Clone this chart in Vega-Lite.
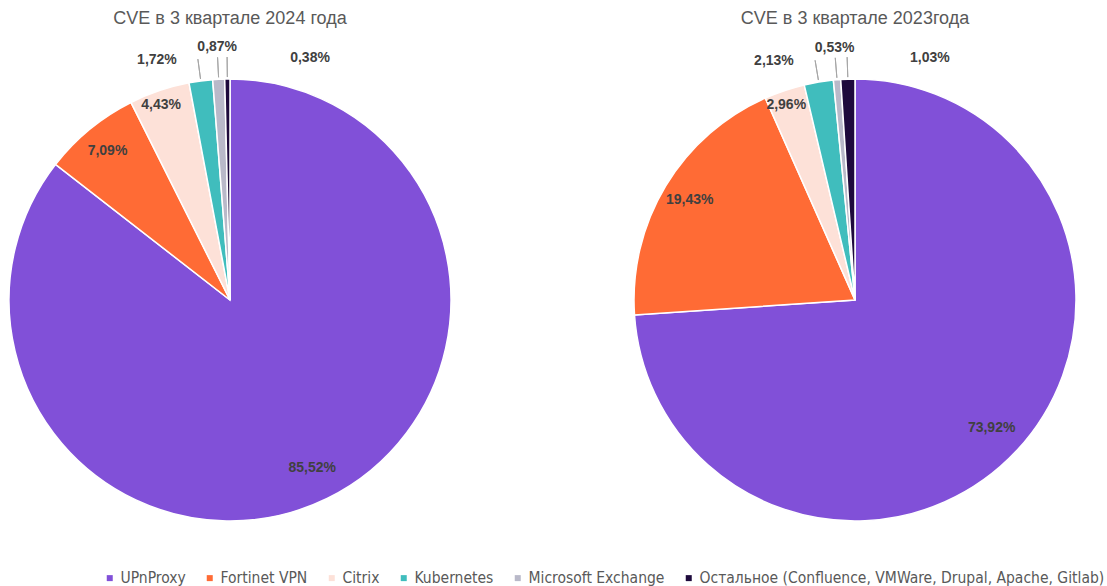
{
  "$schema": "https://vega.github.io/schema/vega-lite/v6.json",
  "padding": {"left": -13, "top": 10, "right": 0, "bottom": 0},
  "bounds": "flush",
  "spacing": 183,
  "background": "white",
  "datasets": {
    "y2024": [
      {"category": "UPnProxy", "value": 85.52, "label": "85,52%", "idx": 1},
      {"category": "Fortinet VPN", "value": 7.09, "label": "7,09%", "idx": 2},
      {"category": "Citrix", "value": 4.43, "label": "4,43%", "idx": 3},
      {"category": "Kubernetes", "value": 1.72, "label": "1,72%", "idx": 4},
      {"category": "Microsoft Exchange", "value": 0.87, "label": "0,87%", "idx": 5},
      {"category": "Остальное (Confluence, VMWare, Drupal, Apache, Gitlab)", "value": 0.38, "label": "0,38%", "idx": 6}
    ],
    "y2023": [
      {"category": "UPnProxy", "value": 73.92, "label": "73,92%", "idx": 1},
      {"category": "Fortinet VPN", "value": 19.43, "label": "19,43%", "idx": 2},
      {"category": "Citrix", "value": 2.96, "label": "2,96%", "idx": 3},
      {"category": "Kubernetes", "value": 2.13, "label": "2,13%", "idx": 4},
      {"category": "Microsoft Exchange", "value": 0.53, "label": "0,53%", "idx": 5},
      {"category": "Остальное (Confluence, VMWare, Drupal, Apache, Gitlab)", "value": 1.03, "label": "1,03%", "idx": 6}
    ]
  },
  "hconcat": [
    {
      "width": 442, "height": 442,
      "title": {"text": "CVE в 3 квартале 2024 года"},
      "data": {"name": "y2024"},
      "encoding": {
        "theta": {"field": "value", "type": "quantitative", "stack": true},
        "order": {"field": "idx", "type": "quantitative"}
      },
      "layer": [
        {
          "mark": {"type": "arc", "radius": 221, "stroke": "white", "strokeWidth": 1.5},
          "encoding": {
            "color": {"field": "category", "type": "nominal", "title": null,
              "scale": {"domain": ["UPnProxy", "Fortinet VPN", "Citrix", "Kubernetes", "Microsoft Exchange", "Остальное (Confluence, VMWare, Drupal, Apache, Gitlab)"],
                        "range": ["#8150D8", "#FF6B35", "#FDE1D8", "#40BDBD", "#B9B9C9", "#1E0A3C"]},
              "legend": {"orient": "none", "legendX": 93, "legendY": 491, "direction": "horizontal", "columns": 6}}
          }
        },
        {
          "mark": {"type": "arc", "radius": 243, "radius2": 223, "padAngle": 0.5, "fillOpacity": 0, "stroke": "#A6A6A6", "strokeWidth": 1},
          "encoding": {"strokeOpacity": {"condition": {"test": "datum.idx >= 4", "value": 1}, "value": 0}}
        },
        {
          "mark": {"type": "text", "radius": 187, "fontWeight": "bold", "fontSize": 14, "font": "Liberation Sans", "color": "#404040"},
          "encoding": {"text": {"condition": {"test": "datum.idx == 1", "field": "label"}, "value": ""}}
        },
        {
          "mark": {"type": "text", "radius": 193, "fontWeight": "bold", "fontSize": 14, "font": "Liberation Sans", "color": "#404040"},
          "encoding": {"text": {"condition": {"test": "datum.idx == 2", "field": "label"}, "value": ""}}
        },
        {
          "mark": {"type": "text", "radius": 206, "dx": -3, "fontWeight": "bold", "fontSize": 14, "font": "Liberation Sans", "color": "#404040"},
          "encoding": {"text": {"condition": {"test": "datum.idx == 3", "field": "label"}, "value": ""}}
        },
        {
          "mark": {"type": "text", "radius": 250, "dx": -40, "dy": 8, "fontWeight": "bold", "fontSize": 14, "font": "Liberation Sans", "color": "#404040"},
          "encoding": {"text": {"condition": {"test": "datum.idx == 4", "field": "label"}, "value": ""}}
        },
        {
          "mark": {"type": "text", "radius": 250, "dx": 0, "dy": -3, "fontWeight": "bold", "fontSize": 14, "font": "Liberation Sans", "color": "#404040"},
          "encoding": {"text": {"condition": {"test": "datum.idx == 5", "field": "label"}, "value": ""}}
        },
        {
          "mark": {"type": "text", "radius": 250, "dx": 83, "dy": 8, "fontWeight": "bold", "fontSize": 14, "font": "Liberation Sans", "color": "#404040"},
          "encoding": {"text": {"condition": {"test": "datum.idx == 6", "field": "label"}, "value": ""}}
        }
      ]
    },
    {
      "width": 442, "height": 442,
      "title": {"text": "CVE в 3 квартале 2023года"},
      "data": {"name": "y2023"},
      "encoding": {
        "theta": {"field": "value", "type": "quantitative", "stack": true},
        "order": {"field": "idx", "type": "quantitative"}
      },
      "layer": [
        {
          "mark": {"type": "arc", "radius": 221, "stroke": "white", "strokeWidth": 1.5},
          "encoding": {
            "color": {"field": "category", "type": "nominal", "title": null,
              "legend": {"orient": "none", "legendX": 93, "legendY": 491, "direction": "horizontal", "columns": 6}}
          }
        },
        {
          "mark": {"type": "arc", "radius": 243, "radius2": 223, "padAngle": 0.5, "fillOpacity": 0, "stroke": "#A6A6A6", "strokeWidth": 1},
          "encoding": {"strokeOpacity": {"condition": {"test": "datum.idx >= 4", "value": 1}, "value": 0}}
        },
        {
          "mark": {"type": "text", "radius": 187, "fontWeight": "bold", "fontSize": 14, "font": "Liberation Sans", "color": "#404040"},
          "encoding": {"text": {"condition": {"test": "datum.idx == 1", "field": "label"}, "value": ""}}
        },
        {
          "mark": {"type": "text", "radius": 193, "fontWeight": "bold", "fontSize": 14, "font": "Liberation Sans", "color": "#404040"},
          "encoding": {"text": {"condition": {"test": "datum.idx == 2", "field": "label"}, "value": ""}}
        },
        {
          "mark": {"type": "text", "radius": 206, "dx": -3, "fontWeight": "bold", "fontSize": 14, "font": "Liberation Sans", "color": "#404040"},
          "encoding": {"text": {"condition": {"test": "datum.idx == 3", "field": "label"}, "value": ""}}
        },
        {
          "mark": {"type": "text", "radius": 250, "dx": -40, "dy": 8, "fontWeight": "bold", "fontSize": 14, "font": "Liberation Sans", "color": "#404040"},
          "encoding": {"text": {"condition": {"test": "datum.idx == 4", "field": "label"}, "value": ""}}
        },
        {
          "mark": {"type": "text", "radius": 250, "dx": 0, "dy": -3, "fontWeight": "bold", "fontSize": 14, "font": "Liberation Sans", "color": "#404040"},
          "encoding": {"text": {"condition": {"test": "datum.idx == 5", "field": "label"}, "value": ""}}
        },
        {
          "mark": {"type": "text", "radius": 250, "dx": 83, "dy": 8, "fontWeight": "bold", "fontSize": 14, "font": "Liberation Sans", "color": "#404040"},
          "encoding": {"text": {"condition": {"test": "datum.idx == 6", "field": "label"}, "value": ""}}
        }
      ]
    }
  ],
  "resolve": {"scale": {"theta": "independent", "color": "shared"}},
  "config": {
    "view": {"stroke": null},
    "title": {"fontSize": 18, "font": "Liberation Sans", "fontWeight": "normal", "color": "#595959", "offset": 12},
    "legend": {"symbolType": "square", "symbolSize": 36, "symbolStrokeWidth": 0,
               "labelFontSize": 15.5, "labelFont": "DejaVu Sans Condensed", "labelColor": "#595959", "columnPadding": 16, "labelLimit": 600, "labelOffset": 3}
  }
}
